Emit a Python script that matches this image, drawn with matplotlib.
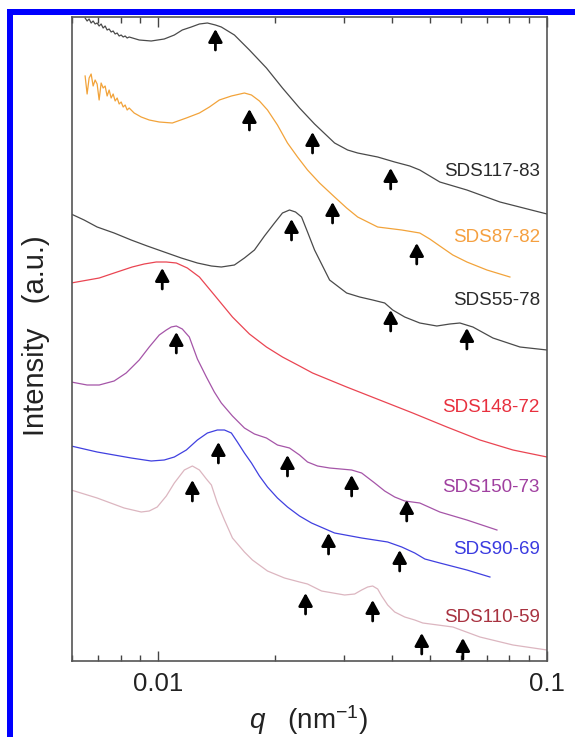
import matplotlib
matplotlib.use("Agg")
import matplotlib.pyplot as plt
from matplotlib.patches import Rectangle

# q grid of the noisy low-q start shared by the two top curves
q_noise = [0.006485, 0.006562, 0.006640, 0.006720, 0.006800, 0.006881, 0.006963, 0.007046,
           0.007130, 0.007215, 0.007301, 0.007388, 0.007476, 0.007566, 0.007656, 0.007747,
           0.007840, 0.007933, 0.008028, 0.008124, 0.008220, 0.008318, 0.008418]

q_117 = q_noise + [0.008934, 0.00959, 0.01036, 0.01100, 0.01153, 0.01216, 0.01276, 0.01338, 0.01403,
                   0.01453, 0.01570, 0.01716, 0.01898, 0.02087, 0.02309, 0.02524, 0.02842, 0.03070,
                   0.03258, 0.03668, 0.04057, 0.04436, 0.04707, 0.05300, 0.06222, 0.07568, 0.1]
I_117 = [643, 640, 642, 638, 640, 637, 638, 635, 637, 633, 635, 631, 632, 629, 630, 627, 628, 625,
         626, 624, 625, 623, 624,
         621, 620, 622, 626, 631, 634, 637, 638, 636, 634, 626, 611, 593, 573, 553, 537, 518, 511,
         508, 504, 499, 495, 491, 479, 471, 459, 447]

q_87 = q_noise + [0.00867, 0.00904, 0.00948, 0.01006, 0.01087, 0.01181, 0.01276, 0.01354, 0.01436,
                  0.01542, 0.01666, 0.01737, 0.01821, 0.01910, 0.02026, 0.02150, 0.02282, 0.02421,
                  0.02600, 0.02842, 0.03052, 0.03258, 0.03668, 0.04230, 0.04707, 0.04994, 0.05300,
                  0.05725, 0.06222, 0.07006, 0.08028]
I_87 = [585, 567, 583, 587, 575, 581, 577, 561, 578, 573, 575, 565, 571, 563, 567, 560, 563, 557,
        559, 554, 556, 551, 553,
        548, 544, 541, 539, 538, 543, 548, 554, 561, 565, 568, 566, 560, 551, 536, 518, 504, 491,
        478, 464, 453, 444, 434, 431, 428, 422, 415, 406, 399, 391, 384]

q_55 = [0.00597, 0.006445, 0.006963, 0.00770, 0.008519, 0.009368, 0.01036, 0.01146, 0.01261,
        0.01370, 0.01453, 0.01570, 0.01666, 0.01768, 0.01876, 0.01991, 0.02087, 0.02176, 0.02255,
        0.02337, 0.02421, 0.02524, 0.02631, 0.02759, 0.03052, 0.03297, 0.03561, 0.03824, 0.04010,
        0.04305, 0.04707, 0.05207, 0.05623, 0.05969, 0.06447, 0.07259, 0.08520, 0.1]
I_55 = [447, 441, 434, 428, 421, 415, 409, 403, 398, 395, 394, 396, 403, 411, 425, 438, 448, 451,
        449, 444, 429, 411, 397, 381, 368, 364, 361, 358, 351, 344, 338, 335, 337, 338, 334, 323,
        314, 311]

q_148 = [0.00597, 0.00705, 0.00770, 0.00857, 0.009203, 0.00988, 0.01049, 0.01113, 0.01188, 0.01276,
         0.01394, 0.01552, 0.01716, 0.01898, 0.02087, 0.02309, 0.02494, 0.03052, 0.03712, 0.04514,
         0.05526, 0.06721, 0.08174, 0.1]
I_148 = [378, 383, 388, 394, 397, 399, 399, 398, 393, 384, 366, 344, 327, 314, 304, 295, 288, 274,
         261, 248, 234, 221, 211, 204]

q_150 = [0.00597, 0.00656, 0.00705, 0.00770, 0.00827, 0.008934, 0.00948, 0.01006, 0.01049, 0.01080,
         0.01113, 0.01153, 0.01202, 0.01261, 0.01330, 0.01394, 0.01453, 0.01552, 0.01666, 0.01768,
         0.01898, 0.02026, 0.02176, 0.02309, 0.02421, 0.02569, 0.02759, 0.03144, 0.03336, 0.03604,
         0.03824, 0.04057, 0.04305, 0.04707, 0.05300, 0.06222, 0.07434]
I_150 = [279, 276, 276, 280, 288, 301, 314, 326, 331, 334, 335, 332, 324, 302, 284, 269, 258, 245,
         233, 227, 223, 216, 213, 206, 199, 195, 193, 191, 188, 178, 170, 164, 160, 158, 149, 141, 131]

q_90 = [0.00597, 0.006963, 0.00770, 0.008519, 0.00959, 0.01036, 0.01100, 0.01181, 0.01261, 0.01338,
        0.01419, 0.01480, 0.01542, 0.01598, 0.01666, 0.01737, 0.01821, 0.01910, 0.02026, 0.02150,
        0.02309, 0.02479, 0.02842, 0.03336, 0.03892, 0.04230, 0.04569, 0.04850, 0.05300, 0.06222,
        0.07132]
I_90 = [215, 209, 206, 203, 200, 201, 204, 211, 221, 228, 231, 231, 228, 219, 208, 198, 185, 174,
        163, 154, 145, 138, 128, 123, 119, 114, 108, 102, 98, 91, 84]

q_110 = [0.00597, 0.006963, 0.00817, 0.00904, 0.00948, 0.00994, 0.01049, 0.01100, 0.01167, 0.01224,
         0.01276, 0.01330, 0.01370, 0.01419, 0.01480, 0.01552, 0.01666, 0.01747, 0.01910, 0.02112,
         0.02309, 0.02421, 0.02631, 0.03016, 0.03201, 0.03336, 0.03457, 0.03561, 0.03668, 0.03756,
         0.03892, 0.04057, 0.04305, 0.04569, 0.04791, 0.05725, 0.06721, 0.08174, 0.1]
I_110 = [171, 163, 153, 149, 150, 154, 165, 178, 191, 195, 191, 182, 176, 158, 141, 123, 109, 101,
         90, 83, 79, 77, 70, 66, 67, 71, 74, 75, 72, 65, 56, 49, 44, 41, 38, 34, 24, 16, 11]

# peak markers (q, intensity at arrow tip)
arrow_q = [0.01403, 0.02494, 0.03962,
           0.01716, 0.02808, 0.04623,
           0.02202, 0.03962, 0.06222,
           0.01024,
           0.01113, 0.02150, 0.03144, 0.04357,
           0.01428, 0.02742, 0.04179,
           0.01224, 0.02393, 0.03561, 0.04762, 0.06076]
arrow_tip = [632, 529, 493,
             552, 459, 418,
             442, 351, 333,
             393,
             329, 206, 186, 161,
             219, 128, 111,
             181, 68, 61, 28, 23]

names = ["SDS117-83", "SDS87-82", "SDS55-78", "SDS148-72", "SDS150-73", "SDS90-69", "SDS110-59"]
label_y = [489, 424, 361, 253, 174, 111, 44]
line_colors = ["#4a4a4a", "#f2a33a", "#4a4a4a", "#ea4552", "#a555a8", "#4040e0", "#dcb6c0"]
text_colors = ["#2a2a2a", "#f5a040", "#2a2a2a", "#e8303e", "#a040a0", "#3a3ae0", "#a83240"]

plt.rcParams['font.family'] = ['Liberation Sans', 'DejaVu Sans']
plt.rcParams['mathtext.fontset'] = 'custom'
plt.rcParams['mathtext.rm'] = 'Liberation Sans'
plt.rcParams['mathtext.it'] = 'Liberation Sans:italic'

fig = plt.figure(figsize=(5.75, 7.37), dpi=100)
ax = fig.add_axes([72/575, 76/737, 475/575, 644/737])

curves = [(q_117, I_117), (q_87, I_87), (q_55, I_55), (q_148, I_148),
          (q_150, I_150), (q_90, I_90), (q_110, I_110)]
for (q, I), c in zip(curves, line_colors):
    ax.plot(q, I, color=c, lw=0.9)

for q, tip in zip(arrow_q, arrow_tip):
    ax.annotate('', xy=(q, tip), xytext=(q, tip - 21),
                arrowprops=dict(arrowstyle='-|>,head_width=0.3,head_length=0.55',
                                mutation_scale=14, lw=2.0, color='black',
                                shrinkA=0, shrinkB=0))

for name, y, c in zip(names, label_y, text_colors):
    ax.text(0.985, y, name, transform=ax.get_yaxis_transform(), ha='right', va='center',
            fontsize=13.5, color=c)

ax.set_xscale('log')
ax.set_xlim(0.006, 0.1)
ax.set_ylim(0, 644)
ax.set_yticks([])
ax.set_xticks([0.01, 0.1])
ax.set_xticklabels(['0.01', '0.1'])
ax.xaxis.set_minor_formatter(matplotlib.ticker.NullFormatter())
ax.tick_params(which='both', direction='in', top=True, colors='#444444', labelcolor='#222222')
ax.tick_params(which='major', length=7, width=1.0, labelsize=18.5, pad=8)
ax.tick_params(which='minor', length=4, width=1.0)
for s in ax.spines.values():
    s.set_color('#555555')
    s.set_linewidth(1.2)

fig.text(36/575, 401/737, 'Intensity   (a.u.)', rotation=90, ha='center', va='center',
         fontsize=21, color='#222222')
fig.text(309/575, 17/737, r'$q$   (nm$^{-1}$)', ha='center', va='center',
         fontsize=20, color='#222222')

# blue frame seen on the top and left edges
fig.add_artist(Rectangle((7/575, 0), 6/575, 728/737, transform=fig.transFigure,
                         facecolor='#0000ff', edgecolor='none'))
fig.add_artist(Rectangle((7/575, 722/737), 568/575, 6/737, transform=fig.transFigure,
                         facecolor='#0000ff', edgecolor='none'))

fig.savefig('out.png', dpi=100)
